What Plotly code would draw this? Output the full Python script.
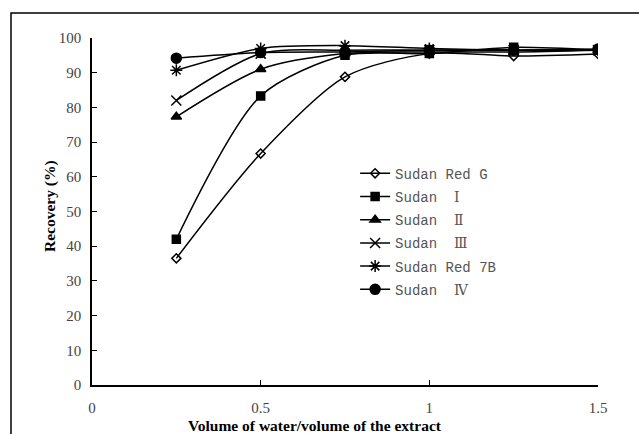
import plotly.graph_objects as go

x_vals = [0.25, 0.5, 0.75, 1.0, 1.25, 1.5]
names = ["Sudan Red G", "Sudan  Ⅰ", "Sudan  Ⅱ", "Sudan  Ⅲ", "Sudan Red 7B", "Sudan  Ⅳ"]
red_g = [36.5, 66.7, 88.8, 95.5, 94.8, 95.4]
sudan_1 = [42.0, 83.3, 95.0, 95.5, 97.3, 96.5]
sudan_2 = [77.3, 91.0, 95.5, 96.0, 96.0, 96.5]
sudan_3 = [82.0, 95.5, 96.5, 96.5, 96.5, 96.5]
red_7b = [90.7, 97.0, 97.8, 97.0, 96.5, 96.5]
sudan_4 = [94.2, 95.8, 96.0, 96.5, 96.5, 96.8]
x_tick_vals = [0, 0.5, 1, 1.5]
x_tick_text = ["0", "0.5", "1", "1.5"]

series = [red_g, sudan_1, sudan_2, sudan_3, red_7b, sudan_4]
symbols = ["diamond-open", "square", "triangle-up", "x-thin-open", "asterisk-open", "circle"]
sizes = [7, 8, 9, 10, 10, 10]

fig = go.Figure()
for i, (nm, ys, sym, sz) in enumerate(zip(names, series, symbols, sizes)):
    fig.add_trace(go.Scatter(
        x=x_vals, y=ys, name=nm, mode="lines+markers", legendgroup=f"g{i}",
        line=dict(color="black", width=1.5, shape="spline", smoothing=0.8),
        marker=dict(symbol=sym, size=sz, color="black",
                    line=dict(color="black", width=1.5)),
    ))

serif = "Liberation Serif, Noto Sans CJK SC, serif"
mono = "Liberation Mono, DejaVu Serif, Noto Sans CJK SC, monospace"
fig.update_layout(
    width=639, height=434,
    margin=dict(l=92, r=41, t=38, b=49),
    paper_bgcolor="white", plot_bgcolor="white",
    font=dict(family=serif, color="#333", size=13),
    showlegend=True,
    legend=dict(x=0.52, y=0.655, xanchor="left", yanchor="top",
                bgcolor="rgba(0,0,0,0)", font=dict(size=14, family=mono, color="#555"),
                tracegroupgap=2, traceorder="grouped", itemwidth=30),
    xaxis=dict(range=[0, 1.5], tickvals=x_tick_vals, ticktext=x_tick_text,
               showgrid=False, zeroline=False, showline=True, linecolor="black", linewidth=1.5,
               ticks="inside", ticklen=5, tickcolor="black", ticklabelstandoff=8,
               tickfont=dict(size=15, family=serif, color="#444")),
    yaxis=dict(range=[0, 100], dtick=10, showgrid=False, zeroline=False,
               showline=True, linecolor="black", linewidth=1.5,
               ticks="inside", ticklen=5, tickcolor="black", ticklabelstandoff=6,
               tickfont=dict(size=15, family=serif, color="#444")),
)

fig.add_annotation(text="<b>Volume of water/volume of the extract</b>", xref="paper", yref="paper",
                   x=(315 - 92) / 506, y=(385 - 425) / 347, xanchor="center", yanchor="middle",
                   showarrow=False, font=dict(size=15.5, family="Liberation Serif", color="black"))
fig.add_annotation(text="<b>Recovery (%)</b>", xref="paper", yref="paper", textangle=-90,
                   x=(50 - 92) / 506, y=(385 - 206) / 347, xanchor="center", yanchor="middle",
                   showarrow=False, font=dict(size=15.5, family="Liberation Serif", color="black"))

fig.add_shape(type="rect", xref="paper", yref="paper",
              x0=(11 - 92) / 506, x1=2, y0=-2, y1=(385 - 13) / 347,
              line=dict(color="black", width=1.5), fillcolor="rgba(0,0,0,0)", layer="below")

fig.write_html("out.html")
